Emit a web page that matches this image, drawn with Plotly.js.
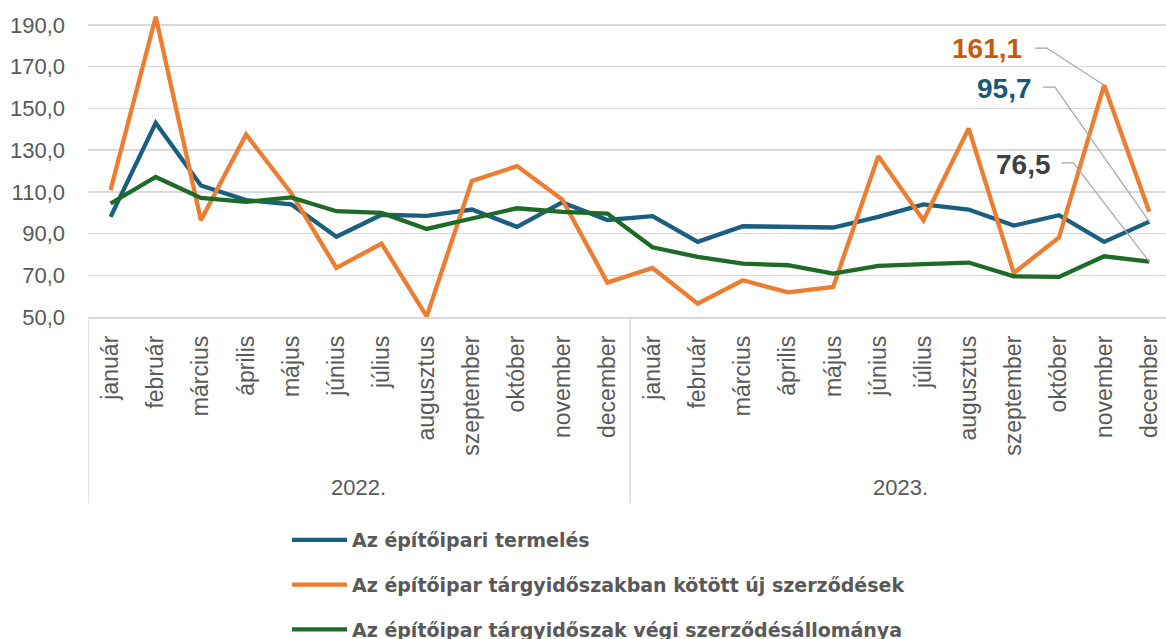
<!DOCTYPE html>
<html>
<head>
<meta charset="utf-8">
<script src="https://cdn.plot.ly/plotly-3.0.1.min.js"></script>
<style>html,body{margin:0;padding:0;background:#fff;}#chart{width:1166px;height:639px;}</style>
</head>
<body>
<div id="chart"></div>
<script>
// Categories
const months = ["január","február","március","április","május","június","július","augusztus","szeptember","október","november","december"];
const years = ["2022.","2023."];

// Series values (2022 jan .. 2023 dec)
const termeles = [98.0,143.0,113.0,106.0,104.0,88.5,99.0,98.5,101.5,93.2,104.9,96.5,
                  98.3,86.0,93.5,93.3,92.9,98.0,104.0,101.5,93.8,98.8,86.0,95.7];
const ujSzerzodesek = [110.8,193.9,96.4,137.5,109.3,73.5,85.2,50.3,115.2,122.3,106.3,66.5,
                       73.5,56.4,67.6,61.8,64.4,127.1,96.4,140.4,71.1,88.1,161.1,100.4];
const szerzodesallomany = [104.4,117.1,107.1,105.2,107.3,100.7,99.9,92.2,97.2,102.1,100.4,99.6,
                           83.4,78.8,75.6,74.8,70.8,74.5,75.3,76.1,69.5,69.2,79.1,76.5];

const seriesNames = ["Az építőipari termelés","Az építőipar tárgyidőszakban kötött új szerződések","Az építőipar tárgyidőszak végi szerződésállománya"];
const yTicks = [50,70,90,110,130,150,170,190];

const labels = [];
years.forEach(() => months.forEach(m => labels.push(m)));
const xIdx = labels.map((_, i) => i);

const colors = ["#1A5E80","#ED7D31","#1E6B25"];
const allSeries = [termeles, ujSzerzodesek, szerzodesallomany];

const traces = allSeries.map((s, k) => ({
  x: xIdx, y: s, type: "scatter", mode: "lines", name: seriesNames[k],
  legendgroup: "g" + k,
  line: {color: colors[k], width: 4.3},
  hoverinfo: "skip"
}));

const fmt = v => v.toFixed(1).replace(".", ",");
const last = labels.length - 1;
const novIdx = last - 1;

const annoFont = {family: "Liberation Sans, Arial, sans-serif", size: 28, weight: "bold"};
const annotations = [
  {xref:"x", yref:"paper", x: 5.5, y: -0.546, text: years[0], showarrow:false, xanchor:"center", yanchor:"middle",
   font:{family:"Liberation Sans, Arial, sans-serif", size:22, color:"#595959"}},
  {xref:"x", yref:"paper", x: 17.5, y: -0.546, text: years[1], showarrow:false, xanchor:"center", yanchor:"middle",
   font:{family:"Liberation Sans, Arial, sans-serif", size:22, color:"#595959"}},
  {xref:"x", yref:"y", x: 20.22, y: 178.8, text: fmt(ujSzerzodesek[novIdx]), showarrow:false, xanchor:"right", yanchor:"middle",
   font:Object.assign({}, annoFont, {color:"#C55A11"})},
  {xref:"x", yref:"y", x: 20.45, y: 159.6, text: fmt(termeles[last]), showarrow:false, xanchor:"right", yanchor:"middle",
   font:Object.assign({}, annoFont, {color:"#1B5878"})},
  {xref:"x", yref:"y", x: 20.87, y: 123.3, text: fmt(szerzodesallomany[last]), showarrow:false, xanchor:"right", yanchor:"middle",
   font:Object.assign({}, annoFont, {color:"#404040"})}
];

const leader = (xa, xb, yl, xp, yp) => ({
  type:"path", xref:"x", yref:"y", layer:"above",
  path:`M ${xa},${yl} L ${xb},${yl} L ${xp},${yp}`,
  line:{color:"#A6A6A6", width:1.2}
});

const shapes = [
  {type:"line", xref:"x", yref:"paper", x0:-0.5, x1:-0.5, y0:0, y1:-0.594, line:{color:"#D9D9D9", width:1.5}},
  {type:"line", xref:"x", yref:"paper", x0:11.5, x1:11.5, y0:0, y1:-0.594, line:{color:"#D9D9D9", width:1.5}},
  leader(20.47, 20.73, 178.9, novIdx, ujSzerzodesek[novIdx]),
  leader(20.65, 20.91, 160.2, last, termeles[last]),
  leader(21.06, 21.32, 123.9, last, szerzodesallomany[last])
];

const layout = {
  width: 1166, height: 639,
  margin: {l: 88, r: 0, t: 4, b: 322, autoexpand: false},
  paper_bgcolor: "#fff", plot_bgcolor: "#fff",
  separators: ", ",
  showlegend: true,
  legend: {
    orientation: "v", x: 0.1846, xanchor: "left", y: -0.652, yanchor: "top",
    traceorder: "grouped", tracegroupgap: 17, itemwidth: 55,
    font: {family: "DejaVu Sans, sans-serif", size: 19, color: "#595959", weight: "bold"},
    bgcolor: "rgba(0,0,0,0)"
  },
  xaxis: {
    range: [-0.5, 23.37], tickmode: "array", tickvals: xIdx, ticktext: labels,
    tickangle: -90, showgrid: false, zeroline: false, ticks: "",
    showline: true, linecolor: "#D9D9D9", linewidth: 1.5,
    ticklabelstandoff: 8, automargin: false,
    tickfont: {family: "Liberation Sans, Arial, sans-serif", size: 23, color: "#595959"},
    fixedrange: true
  },
  yaxis: {
    range: [50, 200], tickmode: "array", tickvals: yTicks, tickformat: ".1f",
    showgrid: true, gridcolor: "#D9D9D9", gridwidth: 1.5, zeroline: false, showline: false, ticks: "",
    ticklabelstandoff: 22, automargin: false,
    tickfont: {family: "Liberation Sans, Arial, sans-serif", size: 22, color: "#595959"},
    fixedrange: true
  },
  annotations: annotations,
  shapes: shapes
};

Plotly.newPlot("chart", traces, layout, {displayModeBar: false, staticPlot: true});
</script>
</body>
</html>
